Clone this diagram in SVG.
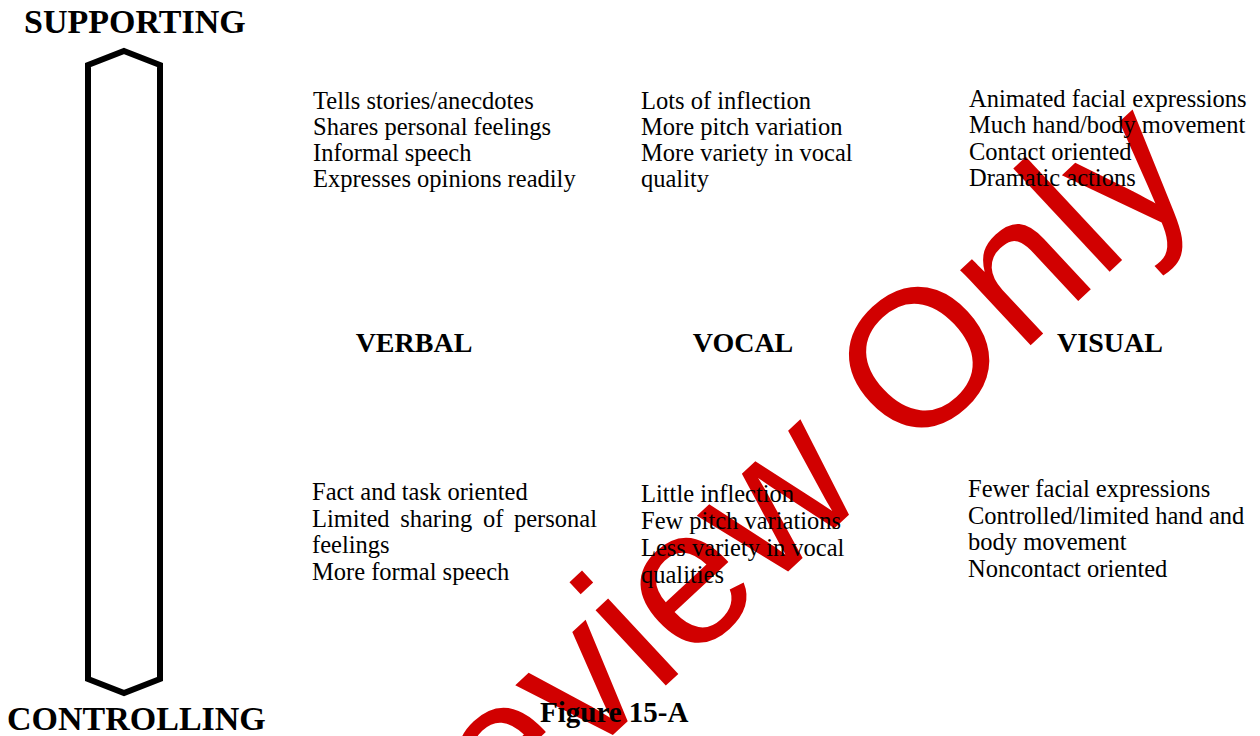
<svg xmlns="http://www.w3.org/2000/svg" width="1260" height="736" viewBox="0 0 1260 736">
  <style>
    .pole { font-family: "Liberation Serif", "Times New Roman", serif; font-weight: bold; font-size: 34px; fill: #000; }
    .head { font-family: "Liberation Serif", "Times New Roman", serif; font-weight: bold; font-size: 28px; fill: #000; text-anchor: middle; }
    .body { font-family: "Liberation Serif", "Times New Roman", serif; font-size: 24.5px; fill: #000; }
    .caption { font-family: "Liberation Serif", "Times New Roman", serif; font-weight: bold; font-size: 29px; fill: #000; }
    .mark { font-family: "Liberation Sans", Arial, sans-serif; font-size: 195px; fill: #d10000; }
    .bar { fill: none; stroke: #000; stroke-width: 6; stroke-linejoin: miter; }
  </style>
  <rect width="1260" height="736" fill="#fff"/>

  <!-- watermark behind the content -->
  <text class="mark" transform="translate(363,968) rotate(-43)">Preview Only</text>

  <!-- scale bar between the two poles -->
  <g id="scale">
    <text class="pole" x="24" y="33">SUPPORTING</text>
    <path class="bar" d="M124,51 L160,65 L160,679 L124,693 L88,679 L88,65 Z"/>
    <text class="pole" x="7" y="730">CONTROLLING</text>
  </g>

  <g id="connectors"></g>

  <!-- supporting-side behaviours -->
  <g id="verbal-supporting" class="body">
    <text x="313" y="109">Tells stories/anecdotes</text>
    <text x="313" y="135">Shares personal feelings</text>
    <text x="313" y="161">Informal speech</text>
    <text x="313" y="187">Expresses opinions readily</text>
  </g>
  <g id="vocal-supporting" class="body">
    <text x="641" y="109">Lots of inflection</text>
    <text x="641" y="135">More pitch variation</text>
    <text x="641" y="161">More variety in vocal</text>
    <text x="641" y="187">quality</text>
  </g>
  <g id="visual-supporting" class="body">
    <text x="969" y="107">Animated facial expressions</text>
    <text x="969" y="133">Much hand/body movement</text>
    <text x="969" y="160">Contact oriented</text>
    <text x="969" y="186">Dramatic actions</text>
  </g>

  <!-- channel headings -->
  <g id="verbal"><text class="head" x="414" y="352">VERBAL</text></g>
  <g id="vocal"><text class="head" x="743" y="352">VOCAL</text></g>
  <g id="visual"><text class="head" x="1110" y="352">VISUAL</text></g>

  <!-- controlling-side behaviours -->
  <g id="verbal-controlling" class="body">
    <text x="312" y="500">Fact and task oriented</text>
    <text x="312" y="526.5" word-spacing="4.5">Limited sharing of personal</text>
    <text x="312" y="553">feelings</text>
    <text x="312" y="579.5">More formal speech</text>
  </g>
  <g id="vocal-controlling" class="body">
    <text x="641" y="502">Little inflection</text>
    <text x="641" y="529">Few pitch variations</text>
    <text x="641" y="556">Less variety in vocal</text>
    <text x="641" y="583">qualities</text>
  </g>
  <g id="visual-controlling" class="body">
    <text x="968" y="497">Fewer facial expressions</text>
    <text x="968" y="524">Controlled/limited hand and</text>
    <text x="968" y="550">body movement</text>
    <text x="968" y="577">Noncontact oriented</text>
  </g>

  <g id="caption"><text class="caption" x="540" y="722">Figure 15-A</text></g>
</svg>
